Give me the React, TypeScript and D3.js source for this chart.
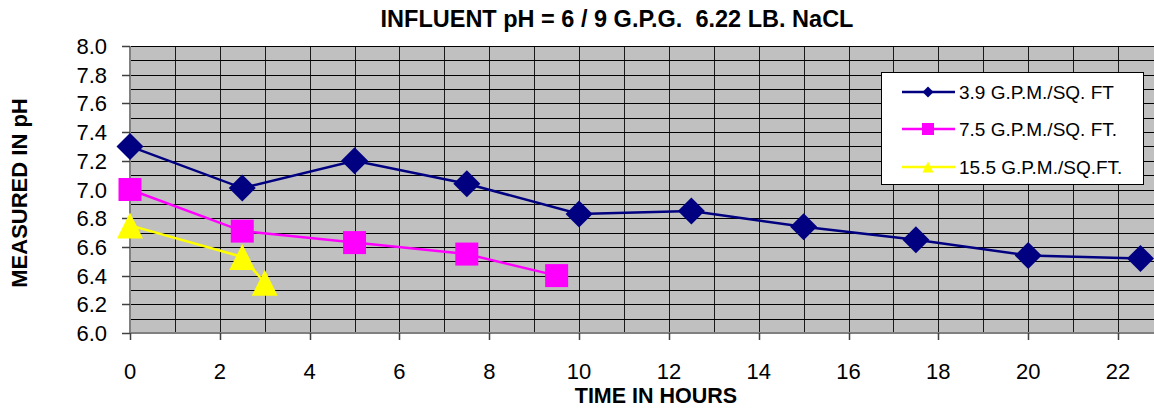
import React from "react";
import * as d3 from "d3";

const TITLE = "INFLUENT pH = 6 / 9 G.P.G.  6.22 LB. NaCL";
const X_TITLE = "TIME IN HOURS";
const Y_TITLE = "MEASURED IN pH";

const hours39 = [0, 2.5, 5, 7.5, 10, 12.5, 15, 17.5, 20, 22.5];
const ph39 = [7.3, 7.01, 7.2, 7.04, 6.83, 6.85, 6.74, 6.65, 6.54, 6.52];
const hours75 = [0, 2.5, 5, 7.5, 9.5];
const ph75 = [7.0, 6.71, 6.63, 6.55, 6.4];
const hours155 = [0, 2.5, 3];
const ph155 = [6.75, 6.53, 6.35];

const seriesNames = ["3.9 G.P.M./SQ. FT", "7.5 G.P.M./SQ. FT.", "15.5 G.P.M./SQ.FT."];
const seriesColors = ["#000080", "#FF00FF", "#FFFF00"];
const seriesShapes = ["diamond", "square", "triangle"];

const xTicks = [0, 2, 4, 6, 8, 10, 12, 14, 16, 18, 20, 22];
const yTicks = [6.0, 6.2, 6.4, 6.6, 6.8, 7.0, 7.2, 7.4, 7.6, 7.8, 8.0];

const W = 1154;
const H = 412;
const PL = 130, PT = 46, PB = 333, PR = 1160;

const x = d3.scaleLinear().domain([0, 22]).range([PL, 1118]);
const y = d3.scaleLinear().domain([6, 8]).range([PB, PT]);

function Marker({ shape, cx, cy, size, color }: { shape: string; cx: number; cy: number; size: number; color: string }) {
  if (shape === "diamond") {
    const h = size / 2;
    return <path d={`M${cx},${cy - h}L${cx + h},${cy}L${cx},${cy + h}L${cx - h},${cy}Z`} fill={color} />;
  }
  if (shape === "square") {
    return <rect x={cx - size / 2} y={cy - size / 2} width={size} height={size} fill={color} />;
  }
  const h = size / 2;
  return <path d={`M${cx},${cy - h}L${cx + h},${cy + h}L${cx - h},${cy + h}Z`} fill={color} />;
}

export default function App() {
  const series = [
    { xs: hours39, ys: ph39 },
    { xs: hours75, ys: ph75 },
    { xs: hours155, ys: ph155 },
  ];
  const line = d3.line<[number, number]>().x((d) => x(d[0])).y((d) => y(d[1]));
  const hGrid = d3.range(61, 81).map((v) => v / 10);
  const vGrid = d3.range(1, 23);
  const markerSizes = [27, 23, 26];
  const font = "'Liberation Sans', Arial, sans-serif";
  const legX = 881, legY = 72, legW = 262, legH = 112;
  const legRows = [92, 129, 167];

  return (
    <svg width={W} height={H} style={{ position: "absolute", left: 0, top: 0, background: "#fff" }} fontFamily={font}>
      <rect x={PL} y={PT} width={PR - PL} height={PB - PT} fill="#C0C0C0" />
      {vGrid.map((v) => (
        <line key={"v" + v} x1={Math.round(x(v)) + 0.5} x2={Math.round(x(v)) + 0.5} y1={PT} y2={PB} stroke="#1a1a1a" strokeWidth={1} />
      ))}
      {hGrid.map((v) => (
        <line key={"h" + v} x1={PL} x2={PR} y1={Math.round(y(v)) + 0.5} y2={Math.round(y(v)) + 0.5} stroke="#000" strokeWidth={1} />
      ))}
      <line x1={PL} x2={PL} y1={PT} y2={PB + 1} stroke="#808080" strokeWidth={2} />
      <line x1={PL} x2={PR} y1={PB} y2={PB} stroke="#808080" strokeWidth={2} />
      {yTicks.map((t) => (
        <g key={"yt" + t}>
          <line x1={122} x2={PL} y1={Math.round(y(t)) + 0.5} y2={Math.round(y(t)) + 0.5} stroke="#404040" strokeWidth={1.5} />
          <text x={107} y={y(t) + 8} textAnchor="end" fontSize={22} fill="#000">{t.toFixed(1)}</text>
        </g>
      ))}
      {xTicks.map((t) => (
        <g key={"xt" + t}>
          <line x1={Math.round(x(t)) + 0.5} x2={Math.round(x(t)) + 0.5} y1={PB} y2={340} stroke="#404040" strokeWidth={1.5} />
          <text x={x(t)} y={379} textAnchor="middle" fontSize={22} fill="#000">{t}</text>
        </g>
      ))}
      {series.map((s, i) => (
        <path key={"l" + i} d={line(s.xs.map((v, j) => [v, s.ys[j]] as [number, number])) || ""} fill="none" stroke={seriesColors[i]} strokeWidth={2.5} />
      ))}
      {series.map((s, i) =>
        s.xs.map((v, j) => (
          <Marker key={"m" + i + "-" + j} shape={seriesShapes[i]} cx={x(v)} cy={y(s.ys[j])} size={markerSizes[i]} color={seriesColors[i]} />
        ))
      )}
      <rect x={legX + 0.5} y={legY + 0.5} width={legW} height={legH} fill="#fff" stroke="#000" strokeWidth={1} />
      {seriesNames.map((n, i) => (
        <g key={"lg" + i}>
          <line x1={902} x2={955} y1={legRows[i]} y2={legRows[i]} stroke={seriesColors[i]} strokeWidth={2.5} />
          <Marker shape={seriesShapes[i]} cx={928} cy={legRows[i]} size={[11, 12, 11][i]} color={seriesColors[i]} />
          <text x={959} y={legRows[i] + 7} fontSize={19} fill="#000">{n}</text>
        </g>
      ))}
      <text x={617} y={27} textAnchor="middle" fontSize={23.5} fontWeight="bold" fill="#000" style={{ whiteSpace: "pre" }} xmlSpace="preserve">{TITLE}</text>
      <text x={656} y={403} textAnchor="middle" fontSize={21.5} fontWeight="bold" fill="#000">{X_TITLE}</text>
      <text transform={`translate(27,193) rotate(-90)`} textAnchor="middle" fontSize={22} fontWeight="bold" fill="#000">{Y_TITLE}</text>
    </svg>
  );
}
